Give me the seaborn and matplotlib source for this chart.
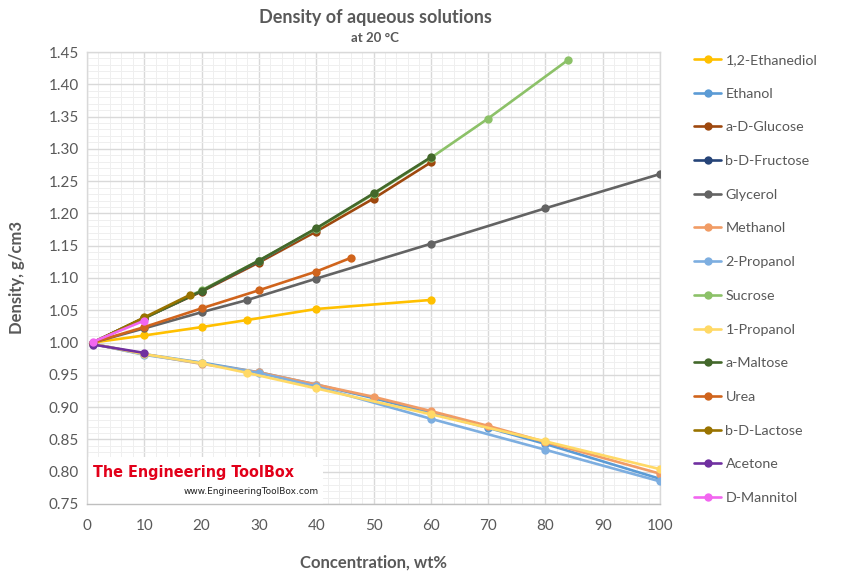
import matplotlib
matplotlib.use("Agg")
import matplotlib.pyplot as plt
import matplotlib.patches as mpatches
from matplotlib.ticker import MultipleLocator, FormatStrFormatter
import pandas as pd
import seaborn as sns

# Density of aqueous solutions at 20 C
names = ['1,2-Ethanediol', 'Ethanol', 'a-D-Glucose', 'b-D-Fructose', 'Glycerol',
         'Methanol', '2-Propanol', 'Sucrose', '1-Propanol', 'a-Maltose',
         'Urea', 'b-D-Lactose', 'Acetone', 'D-Mannitol']

ethanediol_x = [1, 10, 20, 28, 40, 60]
ethanediol_y = [1.000, 1.011, 1.024, 1.035, 1.052, 1.066]
ethanol_x = [1, 10, 20, 30, 40, 50, 60, 70, 80, 100]
ethanol_y = [0.998, 0.982, 0.969, 0.954, 0.935, 0.914, 0.891, 0.868, 0.843, 0.789]
glucose_x = [1, 10, 20, 30, 40, 50, 60]
glucose_y = [1.000, 1.038, 1.079, 1.124, 1.172, 1.223, 1.279]
fructose_x = [1, 10, 20, 30, 40]
fructose_y = [1.000, 1.038, 1.080, 1.126, 1.176]
glycerol_x = [1, 10, 20, 28, 40, 60, 80, 100]
glycerol_y = [1.000, 1.022, 1.047, 1.066, 1.099, 1.153, 1.208, 1.261]
methanol_x = [1, 10, 20, 30, 40, 50, 60, 70, 80, 100]
methanol_y = [0.998, 0.982, 0.967, 0.954, 0.935, 0.916, 0.894, 0.871, 0.846, 0.797]
propanol2_x = [1, 10, 20, 30, 40, 60, 80, 100]
propanol2_y = [0.998, 0.981, 0.968, 0.953, 0.932, 0.882, 0.834, 0.785]
sucrose_x = [1, 10, 20, 30, 40, 50, 60, 70, 84]
sucrose_y = [1.000, 1.038, 1.081, 1.127, 1.176, 1.230, 1.286, 1.347, 1.438]
propanol1_x = [1, 10, 20, 28, 40, 60, 80, 100]
propanol1_y = [0.998, 0.982, 0.968, 0.953, 0.929, 0.889, 0.847, 0.804]
maltose_x = [1, 10, 20, 30, 40, 50, 60]
maltose_y = [1.000, 1.038, 1.080, 1.127, 1.177, 1.231, 1.287]
urea_x = [1, 10, 20, 30, 40, 46]
urea_y = [1.000, 1.024, 1.053, 1.081, 1.110, 1.131]
lactose_x = [1, 10, 18]
lactose_y = [1.000, 1.039, 1.074]
acetone_x = [1, 10]
acetone_y = [0.997, 0.984]
mannitol_x = [1, 10]
mannitol_y = [1.001, 1.034]

colors = ['#FFC000', '#5B9BD5', '#9E480E', '#264478', '#636363',
          '#F19C65', '#7DAEE0', '#8CC168', '#FFD966', '#43682B',
          '#D0641C', '#997300', '#7030A0', '#F266F0']

series = [(ethanediol_x, ethanediol_y), (ethanol_x, ethanol_y), (glucose_x, glucose_y),
          (fructose_x, fructose_y), (glycerol_x, glycerol_y), (methanol_x, methanol_y),
          (propanol2_x, propanol2_y), (sucrose_x, sucrose_y), (propanol1_x, propanol1_y),
          (maltose_x, maltose_y), (urea_x, urea_y), (lactose_x, lactose_y),
          (acetone_x, acetone_y), (mannitol_x, mannitol_y)]

rows = []
for name, (xs, ys) in zip(names, series):
    for xv, yv in zip(xs, ys):
        rows.append({'substance': name, 'conc': xv, 'density': yv})
df = pd.DataFrame(rows)

sns.set_style('white')
plt.rcParams['font.family'] = ['Lato', 'DejaVu Sans']
txt = '#595959'

fig = plt.figure(figsize=(8.47, 5.76), dpi=100)
ax = fig.add_axes([87 / 847, 1 - 504 / 576, 573 / 847, 452 / 576])

sns.lineplot(data=df, x='conc', y='density', hue='substance', hue_order=names,
             palette=colors, sort=False, estimator=None, marker='o', markersize=6,
             markeredgewidth=0, linewidth=1.9, ax=ax, zorder=3)

ax.set_xlim(0, 100)
ax.set_ylim(0.75, 1.45)
ax.xaxis.set_major_locator(MultipleLocator(10))
ax.xaxis.set_minor_locator(MultipleLocator(2))
ax.yaxis.set_major_locator(MultipleLocator(0.05))
ax.yaxis.set_minor_locator(MultipleLocator(0.01))
ax.yaxis.set_major_formatter(FormatStrFormatter('%.2f'))
ax.grid(which='major', color='#D9D9D9', linewidth=1.0, zorder=0)
ax.grid(which='minor', color='#EFEFEF', linewidth=0.7, zorder=0)
ax.set_axisbelow(True)
for sp in ax.spines.values():
    sp.set_color('#D9D9D9')
    sp.set_linewidth(1.0)
ax.spines['bottom'].set_color('#BFBFBF')
ax.tick_params(axis='both', which='both', length=0, labelsize=11, labelcolor=txt)
ax.tick_params(axis='x', pad=11)
ax.tick_params(axis='y', pad=6)

ax.set_xlabel('Concentration, wt%', fontsize=12, fontweight='bold', color=txt, labelpad=15)
ax.set_ylabel('Density, g/cm3', fontsize=12, fontweight='bold', color=txt, labelpad=17)

fig.text(0.443, 1 - 17 / 576, 'Density of aqueous solutions', ha='center', va='center',
         fontsize=13, fontweight='bold', color=txt)
fig.text(0.443, 1 - 38 / 576, 'at 20 °C', ha='center', va='center',
         fontsize=9.5, fontweight='bold', color=txt)

# watermark box
ax.add_patch(mpatches.Rectangle((0, 0), 0.412, 0.104, transform=ax.transAxes,
                                facecolor='white', edgecolor='none', zorder=2))
ax.text(0.011, 0.07, 'The Engineering ToolBox', transform=ax.transAxes,
        fontsize=11.5, fontweight='bold', color='#E2001A', va='center', ha='left',
        family=['DejaVu Sans'], fontstretch='condensed', zorder=4)
ax.text(0.405, 0.027, 'www.EngineeringToolBox.com', transform=ax.transAxes,
        fontsize=6.5, color='#222222', va='center', ha='right',
        family=['DejaVu Sans'], zorder=4)

handles, labels = ax.get_legend_handles_labels()
ax.get_legend().remove()
fig.legend(handles, labels, loc='upper left', bbox_to_anchor=(694 / 847, 1 - 54 / 576),
           frameon=False, fontsize=10.3, labelcolor=txt, handlelength=1.9,
           handletextpad=0.3, labelspacing=1.515, borderpad=0, borderaxespad=0)

fig.savefig('out.png', dpi=100)
